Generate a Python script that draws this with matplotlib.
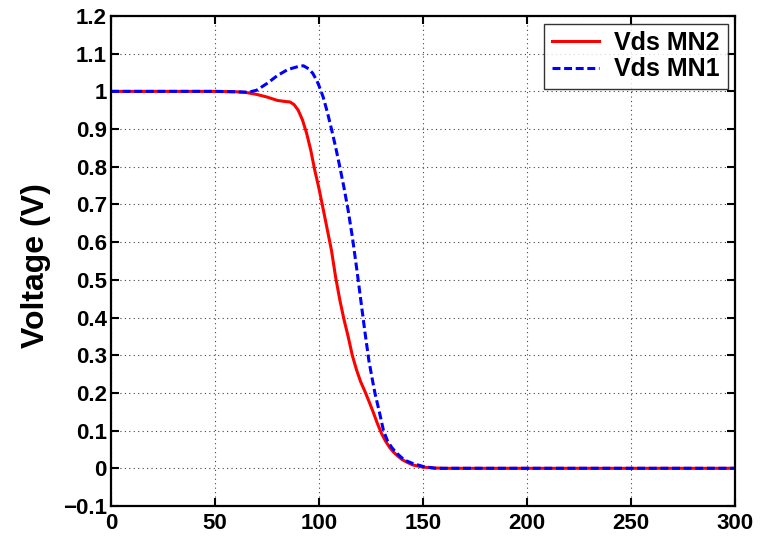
import numpy as np
import matplotlib.pyplot as plt
from matplotlib.ticker import FixedLocator, FixedFormatter

# drain-source voltage samples (time in ps, voltage in V)
t_mn2 = [0, 50, 60, 65, 70, 75, 80, 84, 86, 88, 90, 92, 94, 96, 98, 100, 102,
         104, 106, 108, 110, 112, 114, 116, 118, 120, 122, 124, 126, 128, 130,
         132, 134, 136, 138, 140, 142, 145, 150, 155, 160, 200, 250, 300]
v_mn2 = [1.0, 1.0, 0.999, 0.997, 0.992, 0.985, 0.976, 0.973, 0.972, 0.965,
         0.95, 0.925, 0.89, 0.845, 0.79, 0.742, 0.688, 0.633, 0.578, 0.507,
         0.447, 0.395, 0.35, 0.30, 0.262, 0.23, 0.205, 0.178, 0.15, 0.12,
         0.093, 0.072, 0.055, 0.042, 0.032, 0.023, 0.017, 0.009, 0.003, 0.001,
         0.0, 0.0, 0.0, 0.0]

t_mn1 = [0, 50, 60, 65, 67, 70, 75, 80, 85, 90, 92.5, 95, 97, 99, 100, 102, 104,
         106, 108, 110, 112, 114, 116, 118, 120, 122, 124, 126, 127, 129, 131,
         133, 135, 137, 141, 145, 150, 156, 200, 250, 300]
v_mn1 = [1.0, 1.0, 0.999, 0.998, 0.999, 1.003, 1.021, 1.042, 1.058, 1.066,
         1.068, 1.060, 1.048, 1.028, 1.015, 0.985, 0.945, 0.90, 0.852, 0.80,
         0.745, 0.685, 0.615, 0.535, 0.45, 0.365, 0.285, 0.225, 0.197, 0.15,
         0.10, 0.072, 0.055, 0.042, 0.022, 0.013, 0.005, 0.0, 0.0, 0.0, 0.0]

x_ticks = [0, 50, 100, 150, 200, 250, 300]
y_ticks = [-0.1, 0, 0.1, 0.2, 0.3, 0.4, 0.5, 0.6, 0.7, 0.8, 0.9, 1.0, 1.1, 1.2]
y_labels = ['\u22120.1', '0', '0.1', '0.2', '0.3', '0.4', '0.5', '0.6', '0.7',
            '0.8', '0.9', '1', '1.1', '1.2']

plt.rcParams['font.family'] = ['Liberation Sans', 'DejaVu Sans']
plt.rcParams['font.weight'] = 'bold'

fig = plt.figure(figsize=(7.68, 5.38), dpi=100)
ax = fig.add_axes([111 / 768, 1 - 506 / 538, 624 / 768, 490 / 538])

ax.plot(t_mn2, v_mn2, color='#ff0000', lw=2.2, label='Vds MN2')
ax.plot(t_mn1, v_mn1, color='#0000ff', lw=2.2, ls=(0, (2.6, 1.2)), label='Vds MN1')

ax.set_xlim(0, 300)
ax.set_ylim(-0.1, 1.2)
ax.xaxis.set_major_locator(FixedLocator(x_ticks))
ax.yaxis.set_major_locator(FixedLocator(y_ticks))
ax.yaxis.set_major_formatter(FixedFormatter(y_labels))

ax.grid(True, color='#444444', ls=(0, (1, 3)), lw=0.8)
ax.tick_params(direction='in', length=6, width=1.5, labelsize=16,
               top=True, right=True)
ax.tick_params(axis='y', pad=3)
ax.tick_params(axis='x', pad=5)
for sp in ax.spines.values():
    sp.set_linewidth(1.6)

ax.set_ylabel('Voltage (V)', fontsize=23, fontweight='bold')
ax.yaxis.set_label_coords(-60 / 624, 0.49)

leg = ax.legend(loc='upper right', fontsize=18, frameon=True, fancybox=False,
                edgecolor='black', borderpad=0.3, handlelength=1.9,
                handletextpad=0.6, labelspacing=0.1, borderaxespad=0.3)
leg.get_frame().set_linewidth(1.0)

fig.savefig('out.png', dpi=100)
